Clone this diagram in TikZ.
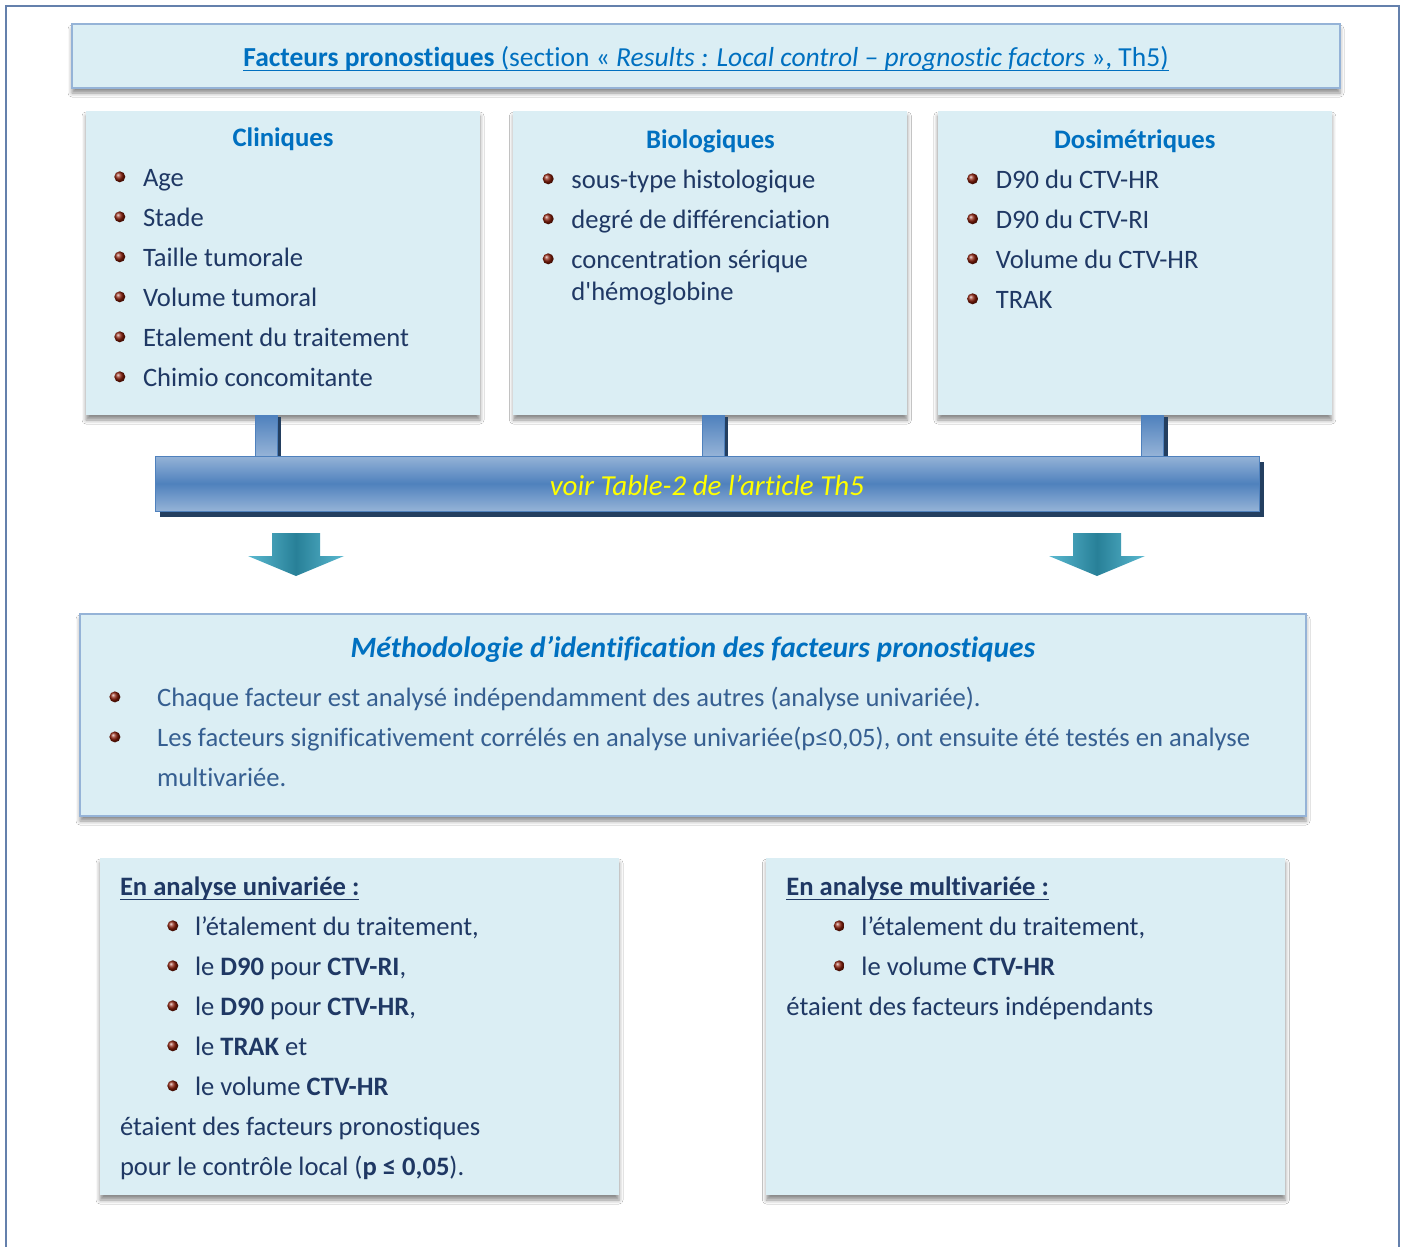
\documentclass[tikz,border=0pt]{standalone}
\usepackage{fontspec}
\setmainfont{Carlito}[Ligatures={TeX,NoCommon}]
\usetikzlibrary{positioning,calc,shadows,shadows.blur}

\definecolor{boxfill}{RGB}{219,238,244}
\definecolor{cadreblue}{RGB}{149,179,215}
\definecolor{frameblue}{RGB}{100,128,172}
\definecolor{headblue}{RGB}{0,112,192}
\definecolor{navy}{RGB}{31,56,100}
\definecolor{methtext}{RGB}{54,95,145}
\definecolor{pucered}{RGB}{140,30,10}
\definecolor{barmid}{RGB}{79,129,189}
\definecolor{barlight}{RGB}{149,179,215}
\definecolor{bardark}{RGB}{36,63,96}
\definecolor{arrowlight}{RGB}{90,185,208}
\definecolor{arrowmid}{RGB}{40,128,152}
\definecolor{jaune}{RGB}{255,255,0}

% underlined text
\newsavebox{\soulbox}
\newcommand{\souligne}[1]{\sbox{\soulbox}{#1}\rlap{\rule[-4.5pt]{\wd\soulbox}{1.5pt}}\usebox{\soulbox}}
% bullet in front of a list line
\newcommand{\puce}[2][23pt]{\shade[ball color=pucered] ([xshift=-#1,yshift=10pt]#2.base west) circle (5.5pt);}
% block arrow pointing down, #1 = top centre
\newcommand{\fleche}[1]{\path[fleche] (#1) ++(-24,0) -- ++(48,0) -- ++(0,23) -- ++(24,0) -- ++(-48,20) -- ++(-48,-20) -- ++(24,0) -- cycle;}

\begin{document}
\begin{tikzpicture}[x=1pt,y=-1pt,
  box/.style={fill=boxfill, inner sep=0pt, blur shadow={shadow xshift=0pt, shadow yshift=-5pt, shadow blur radius=4pt, shadow opacity=45}},
  cadre/.style={box, draw=cadreblue, line width=2.2pt},
  colbox/.style={box, minimum width=394pt, minimum height=304pt},
  basbox/.style={box, minimum width=519pt, minimum height=337pt},
  head/.style={font=\fontsize{26.7}{30}\selectfont\bfseries, text=headblue, inner sep=0pt, anchor=base},
  item/.style={font=\fontsize{26.6}{30}\selectfont, text=navy, inner sep=0pt, anchor=base west},
  methitem/.style={item, text=methtext},
  tige/.style={top color=barmid, bottom color=barlight, draw=barmid, line width=0.8pt,
    drop shadow={shadow xshift=4pt, shadow yshift=-2pt, fill=bardark, opacity=1}},
  barre/.style={minimum width=1104pt, minimum height=55pt, top color=barlight, bottom color=barlight, middle color=barmid,
    draw=barmid, line width=1pt, drop shadow={shadow xshift=5pt, shadow yshift=-6pt, fill=bardark, opacity=1},
    font=\fontsize{29}{32}\selectfont\itshape, text=jaune},
  fleche/.style={left color=arrowlight, right color=arrowlight, middle color=arrowmid}
]
\useasboundingbox (0,0) rectangle (1405,1247);
\fill[white] (0,0) rectangle (1405,1247);
\draw[frameblue, line width=1.5pt] (6,6) rectangle (1399,1262);

% title
\node[cadre, minimum width=1268pt, minimum height=64pt] (titre) at (706,56) {};
\node[inner sep=0pt, anchor=base, font=\fontsize{27.5}{30}\selectfont, text=headblue] (titreT) at ([yshift=-44pt]titre.north)
  {\souligne{\textbf{Facteurs pronostiques} (section « \textit{Results : Local control – prognostic factors} », Th5)}};

% three columns
\node[colbox] (cli) at (283,263) {};
\node[colbox, right=33pt of cli] (bio) {};
\node[colbox, right=30pt of bio] (dos) {};

\node[head] (cliT) at ([yshift=-36pt]cli.north) {Cliniques};
\node[head] (bioT) at ([yshift=-38pt]bio.north) {Biologiques};
\node[head] (dosT) at ([yshift=-38pt]dos.north) {Dosimétriques};

\foreach \t [count=\i] in {Age, Stade, Taille tumorale, Volume tumoral, Etalement du traitement, Chimio concomitante}{
  \node[item] (cli\i) at ([xshift=57pt,yshift={-(36+40*\i)*1pt}]cli.north west) {\t};
  \puce{cli\i}
}
\foreach \t [count=\i] in {sous-type histologique, degré de différenciation, concentration sérique}{
  \node[item] (bio\i) at ([xshift=58pt,yshift={-(38+40*\i)*1pt}]bio.north west) {\t};
  \puce{bio\i}
}
\node[item] (bio4) at ([yshift=-32pt]bio3.base west) {d\textquotesingle hémoglobine};
\foreach \t [count=\i] in {D90 du CTV-HR, D90 du CTV-RI, Volume du CTV-HR, TRAK}{
  \node[item] (dos\i) at ([xshift=58pt,yshift={-(38+40*\i)*1pt}]dos.north west) {\t};
  \puce{dos\i}
}

% bar and stems
\path[tige] ([xshift=-28pt]cli.south) rectangle ([xshift=-6pt]cli.south |- 0,456);
\path[tige] ([xshift=-8pt]bio.south) rectangle ([xshift=14pt]bio.south |- 0,456);
\path[tige] ([xshift=7pt]dos.south) rectangle ([xshift=29pt]dos.south |- 0,456);
\node[barre] (bar) at (707,483.5) {\raisebox{-2pt}[\height][\depth]{voir Table-2 de l’article Th5}};

% arrows
\coordinate (fg) at (296,533);
\coordinate (fd) at (1097,533);
\fleche{fg}
\fleche{fd}

% methodology
\node[cadre, minimum width=1226pt, minimum height=202pt] (meth) at (693,715) {};
\node[head, font=\fontsize{29.5}{32}\selectfont\bfseries\itshape] (methT) at ([yshift=-45pt]meth.north)
  {Méthodologie d’identification des facteurs pronostiques};
\node[methitem] (m1) at ([xshift=78pt,yshift=-94pt]meth.north west)
  {Chaque facteur est analysé indépendamment des autres (analyse univariée).};
\node[methitem] (m2) at ([xshift=78pt,yshift=-134pt]meth.north west)
  {Les facteurs significativement corrélés en analyse univariée(p≤0,05), ont ensuite été testés en analyse};
\node[methitem] (m3) at ([xshift=78pt,yshift=-174pt]meth.north west) {multivariée.};
\puce[42pt]{m1}
\puce[42pt]{m2}

% results
\node[basbox] (uni) at (359.5,1026.5) {};
\node[basbox, right=147pt of uni] (multi) {};

\node[item, font=\fontsize{26.6}{30}\selectfont\bfseries] (uniT) at ([xshift=20pt,yshift=-38pt]uni.north west) {\souligne{En analyse univariée :}};
\foreach \t [count=\i] in {{l’étalement du traitement,}, {le \textbf{D90} pour \textbf{CTV-RI},}, {le \textbf{D90} pour \textbf{CTV-HR},}, {le \textbf{TRAK} et}, {le volume \textbf{CTV-HR}}}{
  \node[item] (uni\i) at ([xshift=95pt,yshift={-(38+40*\i)*1pt}]uni.north west) {\t};
  \puce[22pt]{uni\i}
}
\node[item] (uniA) at ([xshift=20pt,yshift=-278pt]uni.north west) {étaient des facteurs pronostiques};
\node[item] (uniB) at ([xshift=20pt,yshift=-318pt]uni.north west) {pour le contrôle local (\textbf{p ≤ 0,05}).};

\node[item, font=\fontsize{26.6}{30}\selectfont\bfseries] (multiT) at ([xshift=20pt,yshift=-38pt]multi.north west) {\souligne{En analyse multivariée :}};
\foreach \t [count=\i] in {{l’étalement du traitement,}, {le volume \textbf{CTV-HR}}}{
  \node[item] (multi\i) at ([xshift=95pt,yshift={-(38+40*\i)*1pt}]multi.north west) {\t};
  \puce[22pt]{multi\i}
}
\node[item] (multiA) at ([xshift=20pt,yshift=-158pt]multi.north west) {étaient des facteurs indépendants};
\end{tikzpicture}
\end{document}
